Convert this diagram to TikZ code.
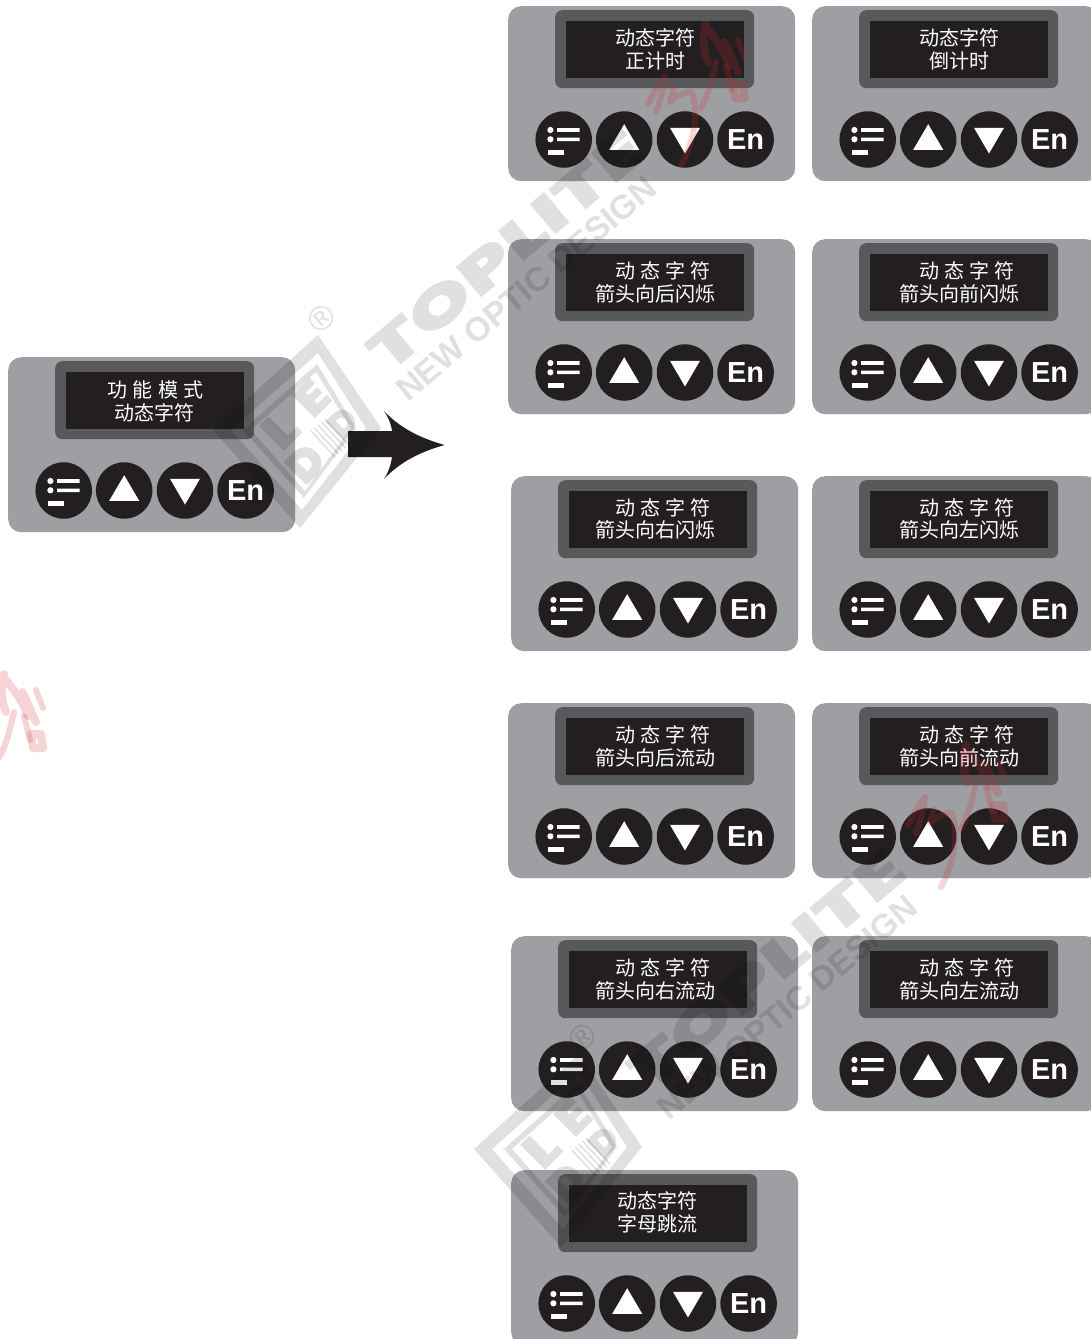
\documentclass[tikz,border=0pt]{standalone}
\usepackage{fontspec}
\setmainfont{Liberation Sans}
\newfontfamily\cjk{Noto Sans CJK SC}
\newfontfamily\heavy[UprightFont=* Black]{Poppins}
\definecolor{pbody}{HTML}{9D9FA2}
\definecolor{pbezel}{HTML}{58595B}
\definecolor{pink}{HTML}{231F20}
\definecolor{wred}{HTML}{D2282F}
\tikzset{
  x=1pt,y=-1pt,
  bodybox/.style={rectangle,fill=pbody,rounded corners=13pt,minimum width=287pt,minimum height=175pt,inner sep=0,anchor=north west},
  bezelbox/.style={rectangle,fill=pbezel,rounded corners=7pt,minimum width=199pt,minimum height=78pt,inner sep=0,anchor=north west},
  lcdbox/.style={rectangle,fill=pink,minimum width=178pt,minimum height=57pt,inner sep=0,anchor=north west},
  keybtn/.style={circle,fill=pink,minimum size=56.5pt,inner sep=0,text=white},
  lcdtext/.style={text=white,inner sep=0,yshift=-1pt,font=\cjk\fontsize{20}{20}\selectfont},
  wmfill/.style={fill=black,fill opacity=.12,even odd rule},
  wmtext/.style={text=black,text opacity=.12,inner sep=0},
  redbase/.style={draw=wred,draw opacity=.2,line cap=round,line join=round}
}
\newcommand{\gp}{\hspace{5.3pt}}
\newcommand{\dev}[8]{%
  \begin{scope}[shift={(#2,#3)}]
    \node[bodybox] (#1b) at (0,0) {};
    \node[bezelbox] (#1s) at (47,4) {};
    \node[lcdbox] (#1l) at (58,15) {};
    \node[keybtn] (#1k) at (55.7,133.5) {};
    \node[keybtn] (#1u) at (116.2,133.5) {};
    \node[keybtn] (#1d) at (177,133.5) {};
    \node[keybtn,font=\bfseries\fontsize{29}{29}\selectfont] (#1e) at (237.6,133.5) {En};
    \fill[white] (#1k.center) ++(-13.3,-9.5) circle (3.1) ++(0,9.3) circle (3.1);
    \fill[white] (#1k.center) ++(-6.7,-11.3) rectangle ++(22.7,3.6) ++(-22.7,5.7) rectangle ++(22.7,3.6);
    \fill[white] (#1k.center) ++(-16,10.7) rectangle ++(16,4.6);
    \fill[white] (#1u.center) ++(0,-15.3) -- ++(15,25.6) -- ++(-30,0) -- cycle;
    \fill[white] (#1d.center) ++(-15,-11.7) -- ++(30,0) -- ++(-15,25.7) -- cycle;
  \end{scope}
  \node[lcdtext] (#1a) at (#5,#6) {#4};
  \node[lcdtext] (#1c) at (#8) {#7};
}
\newcommand{\wmlogo}[2]{%
  \begin{scope}[shift={(#2)}]
    \fill[wmfill]
      (318,335) -- (381,428) -- (300,528) -- (213,430) -- cycle
      (318,353) -- (366,428) -- (302,510) -- (231,430) -- cycle
      (317,364) -- (356,428) -- (304,498) -- (243,430) -- cycle
      (316,372) -- (351,428) -- (305,491) -- (251,430) -- cycle;
    \node[wmtext,rotate=45,font=\heavy\fontsize{50}{50}\selectfont,xscale=1.2] (#1el) at (281,430) {L};
    \node[wmtext,rotate=45,font=\heavy\fontsize{46}{46}\selectfont,xscale=1.15] (#1ee) at (312,399) {E};
    \node[wmtext,rotate=45,font=\heavy\fontsize{46}{46}\selectfont] (#1dl) at (306,464) {D};
    \node[wmtext,rotate=45,font=\heavy\fontsize{36}{36}\selectfont] (#1dr) at (343,423) {D};
    \draw[black,draw opacity=.12,line width=1.5pt]
      (311,431) -- (335,457) (314.5,428) -- (338.5,454) (318,425) -- (342,451) (321.5,422) -- (345.5,448) (325,419) -- (349,445);
    \node[wmtext,rotate=40,font=\fontsize{34}{34}\selectfont] (#1r) at (322,318) {®};
    \node[wmtext,rotate=40,anchor=base west,font=\heavy\fontsize{56}{56}\selectfont,xscale=1.5] (#1t) at (388,376) {TOPLITE};
    \node[wmtext,rotate=40,anchor=base west,font=\bfseries\fontsize{33.5}{33.5}\selectfont] (#1n) at (408,403) {NEW OPTIC DESIGN};
  \end{scope}
}
\newcommand{\wmred}[1]{%
  \begin{scope}[shift={(#1)}]
    \draw[redbase,line width=8pt]
      (706,24) .. controls (702,40) and (703,50) .. (708,62)
      (708,30) .. controls (716,40) and (724,50) .. (730,66)
      (724,42) .. controls (728,48) and (732,60) .. (738,72)
      (733,84) -- (743,84) -- (745,98) -- (735,98) -- cycle;
    \draw[redbase,line width=6pt]
      (716,62) .. controls (712,80) and (708,95) .. (701,108)
      (738,40) -- (745,58)
      (726,66) -- (732,90);
    \draw[redbase,line width=6pt]
      (648,104) .. controls (654,92) and (660,82) .. (665,76)
      (665,76) .. controls (664,88) and (660,100) .. (656,112)
      (670,102) -- (674,88)
      (670,102) .. controls (676,95) and (686,92) .. (692,92)
      (692,92) .. controls (700,118) and (692,145) .. (681,166);
  \end{scope}
}
\begin{document}
\begin{tikzpicture}
\useasboundingbox (0,0) rectangle (1091,1339);
\clip (0,0) rectangle (1091,1339);
\fill[white] (0,0) rectangle (1091,1339);
\dev{m}{8}{357}{功\gp 能\gp 模\gp 式}{155.5}{389}{动态字符}{154.5,412}
\dev{aa}{508}{6}{动态字符}{655}{37}{正计时}{655,60}
\dev{ab}{812}{6}{动态字符}{959}{37}{倒计时}{959,60}
\dev{ba}{508}{239}{动\gp 态\gp 字\gp 符}{663}{270}{箭头向后闪烁}{655,293}
\dev{bb}{812}{239}{动\gp 态\gp 字\gp 符}{967}{270}{箭头向前闪烁}{959,293}
\dev{ca}{511}{476}{动\gp 态\gp 字\gp 符}{663}{507}{箭头向右闪烁}{655,529}
\dev{cb}{812}{476}{动\gp 态\gp 字\gp 符}{967}{507}{箭头向左闪烁}{959,529}
\dev{da}{508}{703}{动\gp 态\gp 字\gp 符}{663}{734}{箭头向后流动}{655,757}
\dev{db}{812}{703}{动\gp 态\gp 字\gp 符}{967}{734}{箭头向前流动}{959,757}
\dev{ea}{511}{936}{动\gp 态\gp 字\gp 符}{663}{967}{箭头向右流动}{655,990}
\dev{eb}{812}{936}{动\gp 态\gp 字\gp 符}{967}{967}{箭头向左流动}{959,990}
\dev{fa}{511}{1170}{动态字符}{657}{1200}{字母跳流}{657,1223}
% arrow
\fill[pink] (348,431) -- (392,431) .. controls (391,423) and (388,417) .. (384,411)
  .. controls (400,428) and (420,438) .. (444.5,445)
  .. controls (420,452) and (400,462) .. (384,479)
  .. controls (388,473) and (391,465) .. (392,457) -- (348,457) -- cycle;
% watermarks
\wmlogo{wa}{0,0}
\wmlogo{wb}{261,719}
\wmred{0,0}
\wmred{260,721}
\wmred{-702,650}
\end{tikzpicture}
\end{document}
